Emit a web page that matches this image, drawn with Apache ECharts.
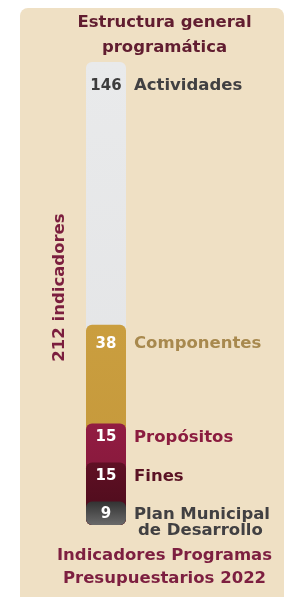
<!DOCTYPE html>
<html>
<head>
<meta charset="utf-8">
<script src="https://cdn.jsdelivr.net/npm/echarts@6/dist/echarts.min.js"></script>
<style>
  html, body { margin: 0; padding: 0; background: #fff; }
  #chart { width: 289px; height: 597px; }
</style>
</head>
<body>
<div id="chart"></div>
<script>
// data
const levels = ['Actividades', 'Componentes', 'Propósitos', 'Fines', 'Plan Municipal\nde Desarrollo'];
const counts = [146, 38, 15, 15, 9];
const totalName = '212 indicadores';
const headTitle = 'Estructura general\nprogramática';
const footTitle = 'Indicadores Programas\nPresupuestarios 2022';

// styles
const FONT = '"DejaVu Sans", Verdana, sans-serif';
const barTop = ['#E9EAEB', '#CA9E3F', '#921C42', '#5F1024', '#333333'];
const barBottom = ['#E2E3E5', '#C4973A', '#7E1637', '#4B0B1B', '#6A6A6A'];
const valueColor = ['#3D3D3D', '#fff', '#fff', '#fff', '#fff'];
const nameColor = ['#414042', '#A8894E', '#8B1C3F', '#5A1224', '#414042'];
const labelOffset = [24, 19, 14, 14, 21];

// each bar runs from the base up to the sum of its own level and the ones below,
// so the lower levels sit on top of the upper ones like a stacked column
const cumulative = counts.map((c, i) => counts.slice(i).reduce((a, b) => a + b, 0));
const total = cumulative[0];

let chart = echarts.init(document.getElementById('chart'));

const series = levels.map((name, i) => {
    const lines = name.split('\n');
    let text = '{v|' + counts[i] + '}{n|' + lines[0] + '}';
    for (let k = 1; k < lines.length; k++) {
        text += '\n{e| }{n|' + lines[k] + '}';
    }
    return {
        type: 'bar',
        name: name,
        data: [cumulative[i]],
        barWidth: 40,
        barGap: '-100%',
        z: 2 + i,
        silent: true,
        itemStyle: {
            borderRadius: 6,
            color: new echarts.graphic.LinearGradient(0, 0, 0, 1, [
                { offset: 0, color: barTop[i] },
                { offset: 1, color: barBottom[i] }
            ])
        },
        label: {
            show: true,
            position: [0, labelOffset[i]],
            align: 'left',
            verticalAlign: 'middle',
            formatter: text,
            lineHeight: 16,
            rich: {
                v: { width: 40, align: 'center', color: valueColor[i], fontFamily: FONT, fontWeight: 'bold', fontSize: 15 },
                n: { padding: [0, 0, 0, 8], color: nameColor[i], fontFamily: FONT, fontWeight: 'bold', fontSize: 16.5, lineHeight: 16 },
                e: { width: 44 }
            }
        }
    };
});

chart.setOption({
    animation: false,
    graphic: [
        {
            type: 'rect', z: -10, silent: true,
            shape: { x: 20, y: 8, width: 264, height: 640, r: 8 },
            style: { fill: '#EFE0C4' }
        },
        {
            type: 'text', x: 164.5, y: 35,
            style: { text: headTitle, align: 'center', verticalAlign: 'middle', fill: '#611D30',
                     fontFamily: FONT, fontWeight: 'bold', fontSize: 16.5, lineHeight: 24.5 }
        },
        {
            type: 'text', x: 164.5, y: 567.5,
            style: { text: footTitle, align: 'center', verticalAlign: 'middle', fill: '#7D1F40',
                     fontFamily: FONT, fontWeight: 'bold', fontSize: 16.5, lineHeight: 23 }
        }
    ],
    grid: { left: 86, right: 163, top: 62, bottom: 72 },
    xAxis: { type: 'category', data: [''], show: false },
    yAxis: {
        type: 'value',
        min: 0,
        max: total,
        breaks: [{ start: 100, end: 145, gap: 0 }],
        breakArea: { show: false, itemStyle: { opacity: 0 }, zigzagAmplitude: 0 },
        axisLine: { show: false },
        axisTick: { show: false },
        axisLabel: { show: false },
        splitLine: { show: false },
        name: totalName,
        nameLocation: 'middle',
        nameRotate: 90,
        nameGap: 18,
        nameTextStyle: { color: '#7B1E3E', fontFamily: FONT, fontWeight: 'bold', fontSize: 16.5, padding: [0, 0, 0, 12] }
    },
    series: series
});
</script>
</body>
</html>
